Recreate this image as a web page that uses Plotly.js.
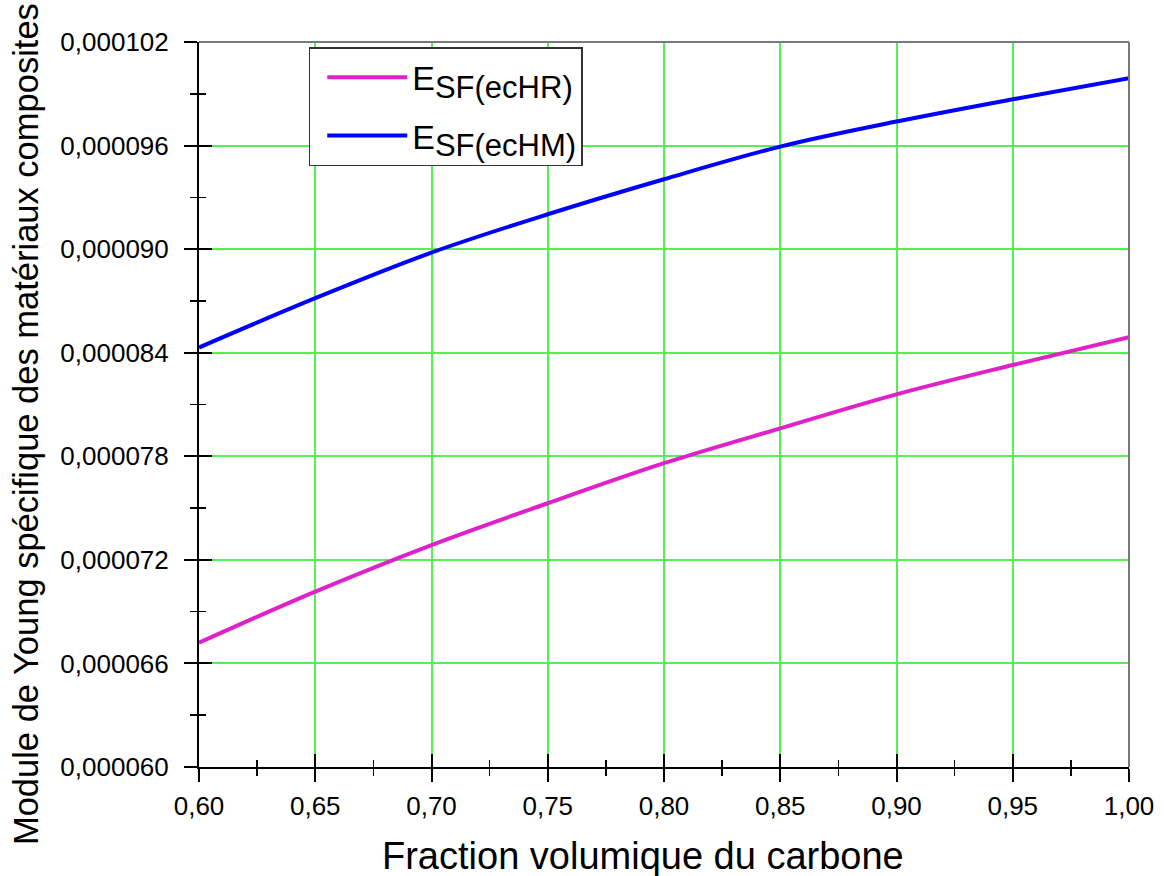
<!DOCTYPE html>
<html>
<head>
<meta charset="utf-8">
<script src="https://cdn.plot.ly/plotly-3.0.1.min.js"></script>
<style>html,body{margin:0;padding:0;background:#fff;}#chart{width:1164px;height:876px;}</style>
</head>
<body>
<div id="chart"></div>
<script>
// Data
const fraction = [0.60, 0.65, 0.70, 0.75, 0.80, 0.85, 0.90, 0.95, 1.00];
const esfEcHR = [0.0000672, 0.00007016, 0.00007286, 0.00007528, 0.0000776, 0.00007962, 0.00008159, 0.00008329, 0.0000849];
const esfEcHM = [0.0000843, 0.00008716, 0.0000898, 0.00009202, 0.00009405, 0.00009594, 0.00009739, 0.00009868, 0.0000999];
const seriesNames = ['E<sub><span style="font-size:31px">SF(ecHR)</span></sub>', 'E<sub><span style="font-size:31px">SF(ecHM)</span></sub>'];
const xTitle = 'Fraction volumique du carbone';
const yTitle = 'Module de Young spécifique des matériaux composites';

const font = 'Liberation Sans, Arial, sans-serif';
const green = '#55f055';

const traces = [
  {x: fraction, y: esfEcHR, name: seriesNames[0], legendgroup: 'a', mode: 'lines', line: {color: '#e020c8', width: 4, shape: 'spline'}},
  {x: fraction, y: esfEcHM, name: seriesNames[1], legendgroup: 'b', mode: 'lines', line: {color: '#0000ff', width: 4, shape: 'spline'}},
  // invisible helper trace carrying the inner tick axes
  {x: fraction, y: esfEcHM, xaxis: 'x2', yaxis: 'y2', mode: 'lines', opacity: 0, showlegend: false, hoverinfo: 'skip', line: {width: 0}}
];

const xr = [0.6, 1.0], yr = [0.000060, 0.000102];
const baseX = {range: xr, dtick: 0.05, tick0: 0.6, tickformat: '.2f', tickfont: {family: font, size: 26, color: '#000'}};
const baseY = {range: yr, dtick: 0.000006, tick0: 0.000060, tickformat: '.6f', tickfont: {family: font, size: 26, color: '#000'}};

const layout = {
  width: 1164, height: 876,
  margin: {l: 199, r: 35, t: 42, b: 109},
  paper_bgcolor: '#fff', plot_bgcolor: '#fff',
  separators: ', ',
  showlegend: true,
  font: {family: font, color: '#000'},
  xaxis: Object.assign({}, baseX, {
    showline: true, linecolor: '#000', linewidth: 2,
    ticks: 'outside', ticklen: 13, tickwidth: 2, tickcolor: '#000', ticklabelstandoff: 2,
    showgrid: true, gridcolor: green, gridwidth: 2, zeroline: false,
    minor: {dtick: 0.025, tick0: 0.6, ticks: 'outside', ticklen: 7, tickwidth: 1.5, tickcolor: '#000', showgrid: false}
  }),
  yaxis: Object.assign({}, baseY, {
    showline: true, linecolor: '#000', linewidth: 2,
    ticks: 'outside', ticklen: 13, tickwidth: 2, tickcolor: '#000', ticklabelstandoff: 10,
    showgrid: true, gridcolor: green, gridwidth: 2, zeroline: false,
    minor: {dtick: 0.000003, tick0: 0.000060, ticks: 'outside', ticklen: 7, tickwidth: 1.5, tickcolor: '#000', showgrid: false}
  }),
  xaxis2: Object.assign({}, baseX, {
    overlaying: 'x', anchor: 'y2', side: 'bottom', showline: false,
    ticks: 'inside', ticklen: 13, tickwidth: 2, tickcolor: '#000',
    showticklabels: false, showgrid: false, zeroline: false,
    minor: {dtick: 0.025, tick0: 0.6, ticks: 'inside', ticklen: 7, tickwidth: 1.5, tickcolor: '#000', showgrid: false}
  }),
  yaxis2: Object.assign({}, baseY, {
    overlaying: 'y', anchor: 'x2', side: 'left', showline: false,
    ticks: 'inside', ticklen: 13, tickwidth: 2, tickcolor: '#000',
    showticklabels: false, showgrid: false, zeroline: false,
    minor: {dtick: 0.000003, tick0: 0.000060, ticks: 'inside', ticklen: 7, tickwidth: 1.5, tickcolor: '#000', showgrid: false}
  }),
  legend: {
    x: 0.118, y: 0.993, xanchor: 'left', yanchor: 'top',
    bgcolor: '#fff', bordercolor: '#333', borderwidth: 1.5,
    font: {family: font, size: 34, color: '#000'},
    itemwidth: 80, indentation: 12, tracegroupgap: 11, traceorder: 'grouped'
  },
  shapes: [
    {type: 'line', xref: 'paper', yref: 'paper', x0: 0, x1: 1, y0: 1, y1: 1, line: {color: '#7a7a7a', width: 2}},
    {type: 'line', xref: 'paper', yref: 'paper', x0: 1, x1: 1, y0: 0, y1: 1, line: {color: '#7a7a7a', width: 2}}
  ],
  annotations: [
    {text: xTitle, xref: 'paper', yref: 'paper', x: 0.477, y: -0.123, xanchor: 'center', yanchor: 'middle', showarrow: false, font: {family: font, size: 38, color: '#000'}},
    {text: yTitle, xref: 'paper', yref: 'paper', x: -0.186, y: 0.473, xanchor: 'center', yanchor: 'middle', textangle: -90, showarrow: false, font: {family: font, size: 34.5, color: '#000'}}
  ]
};

Plotly.newPlot('chart', traces, layout, {displayModeBar: false, staticPlot: true});
</script>
</body>
</html>
